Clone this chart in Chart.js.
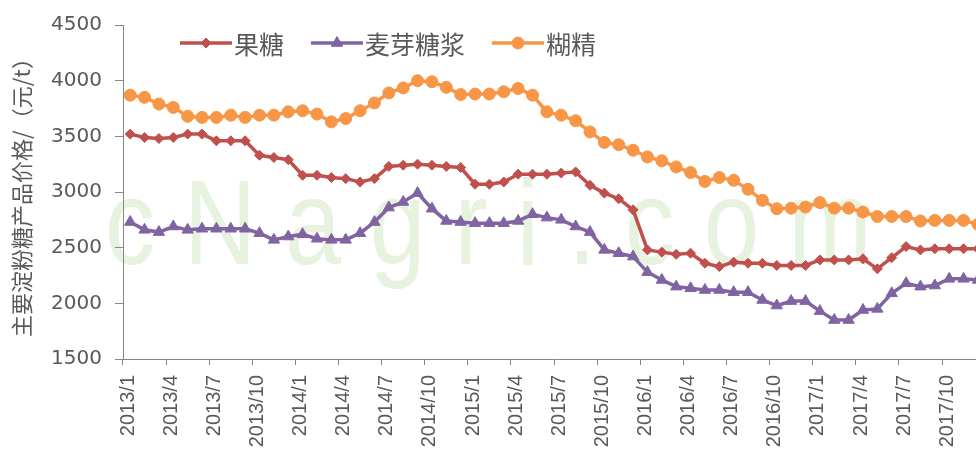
<!DOCTYPE html>
<html>
<head>
<meta charset="utf-8">
<script src="https://cdn.jsdelivr.net/npm/chart.js@4"></script>
<style>
html,body{margin:0;padding:0;background:#fff;overflow:hidden;width:976px;height:450px;}
#wrap{position:absolute;left:0;top:0;width:1012px;height:450px;}
</style>
</head>
<body>
<div id="wrap"><canvas id="c" width="1012" height="450"></canvas></div>
<script>
// ---- data ----
const categories = [];
for (let y = 2013; y <= 2017; y++) for (let m = 1; m <= 12; m++) categories.push(y + '/' + m);

const seriesNames = ['果糖', '麦芽糖浆', '糊精'];

const fructose = [
  3520, 3490, 3480, 3490, 3520, 3520, 3460, 3460, 3460, 3330,
  3310, 3290, 3150, 3150, 3130, 3120, 3090, 3120, 3230, 3240,
  3250, 3240, 3230, 3220, 3070, 3070, 3090, 3160, 3160, 3160,
  3170, 3180, 3060, 2990, 2940, 2840, 2480, 2460, 2440, 2450,
  2360, 2330, 2370, 2360, 2360, 2340, 2340, 2340, 2390, 2390,
  2390, 2400, 2310, 2410, 2510, 2480, 2490, 2490, 2490, 2490
];

const maltoseSyrup = [
  2730, 2660, 2640, 2690, 2660, 2670, 2670, 2670, 2670, 2630,
  2570, 2600, 2620, 2580, 2570, 2570, 2630, 2730, 2860, 2910,
  2990, 2850, 2740, 2730, 2720, 2720, 2720, 2740, 2800, 2770,
  2750, 2690, 2640, 2480, 2450, 2420, 2280, 2210, 2150, 2135,
  2120, 2120, 2100, 2100, 2030, 1980, 2020, 2020, 1930, 1850,
  1850, 1940, 1950, 2090, 2180, 2150, 2160, 2220, 2220, 2210
];

const dextrin = [
  3870, 3850, 3790, 3760, 3680, 3670, 3670, 3690, 3670, 3690,
  3690, 3720, 3730, 3700, 3630, 3660, 3730, 3800, 3890, 3935,
  4000, 3990, 3940, 3875, 3880, 3880, 3900, 3930, 3870, 3720,
  3690, 3640, 3540, 3445, 3425, 3375, 3315, 3280, 3225, 3175,
  3095, 3130, 3105, 3025, 2925, 2850, 2855, 2865, 2905, 2855,
  2855, 2820, 2780, 2780, 2780, 2740, 2745, 2745, 2745, 2710
];

const yTicks = [1500, 2000, 2500, 3000, 3500, 4000, 4500];
const yTitle = '主要淀粉糖产品价格/（元/t）';
const watermarkText = 'cNagri.com';

// ---- styles ----
const colors = ['#C0504D', '#8064A2', '#F79646'];
const styles = ['rectRot', 'triangle', 'circle'];
const radii = [5, 6.5, 6];
const axisGray = '#868686';
const textGray = '#595959';

function drawMarker(ctx, style, x, y, r, color) {
  ctx.save();
  ctx.fillStyle = color;
  ctx.strokeStyle = color;
  ctx.lineWidth = 1;
  ctx.beginPath();
  if (style === 'circle') {
    ctx.arc(x, y, r, 0, Math.PI * 2);
  } else if (style === 'triangle') {
    ctx.moveTo(x, y - r);
    ctx.lineTo(x + 0.866 * r, y + 0.5 * r);
    ctx.lineTo(x - 0.866 * r, y + 0.5 * r);
  } else {
    ctx.moveTo(x, y - r);
    ctx.lineTo(x + r, y);
    ctx.lineTo(x, y + r);
    ctx.lineTo(x - r, y);
  }
  ctx.closePath();
  ctx.fill();
  ctx.stroke();
  ctx.restore();
}

const watermarkPlugin = {
  id: 'watermark',
  beforeDraw(chart) {
    const ctx = chart.ctx;
    ctx.save();
    ctx.scale(1, 1.2);
    ctx.font = '100px "Liberation Sans"';
    try { ctx.letterSpacing = '29px'; } catch (e) {}
    ctx.fillStyle = '#e7f2df';
    ctx.textBaseline = 'alphabetic';
    ctx.fillText(watermarkText, 105, 220);
    ctx.restore();
  }
};

const legendPlugin = {
  id: 'lineLegend',
  afterDraw(chart) {
    const ctx = chart.ctx;
    ctx.save();
    ctx.font = '25px "Noto Sans CJK SC"';
    ctx.textBaseline = 'middle';
    let x = 180;
    const y = 43;
    const L = 52;
    chart.data.datasets.forEach(ds => {
      ctx.strokeStyle = ds.borderColor;
      ctx.lineWidth = ds.borderWidth;
      ctx.beginPath();
      ctx.moveTo(x, y);
      ctx.lineTo(x + L, y);
      ctx.stroke();
      drawMarker(ctx, ds.pointStyle, x + L / 2, y, ds.pointRadius, ds.borderColor);
      x += L + 2;
      ctx.fillStyle = textGray;
      ctx.fillText(ds.label, x, y + 1);
      x += ctx.measureText(ds.label).width + 27;
    });
    ctx.restore();
  }
};

const seriesData = [fructose, maltoseSyrup, dextrin];

new Chart(document.getElementById('c'), {
  type: 'line',
  data: {
    labels: categories,
    datasets: seriesData.map((d, i) => ({
      label: seriesNames[i],
      data: d,
      borderColor: colors[i],
      backgroundColor: colors[i],
      borderWidth: 3.5,
      pointStyle: styles[i],
      pointRadius: radii[i],
      pointBorderWidth: 1,
      pointBackgroundColor: colors[i],
      pointBorderColor: colors[i],
      tension: 0,
      fill: false,
      order: 2 - i
    }))
  },
  options: {
    responsive: false,
    animation: false,
    events: [],
    layout: { padding: { top: 23, right: 6, bottom: 0, left: 0 } },
    plugins: {
      legend: { display: false },
      tooltip: { enabled: false }
    },
    scales: {
      x: {
        type: 'category',
        offset: true,
        grid: {
          offset: true,
          drawOnChartArea: false,
          drawTicks: true,
          tickLength: 6,
          color: ctx => (ctx.index % 3 === 0 ? axisGray : 'rgba(0,0,0,0)'),
          lineWidth: 1
        },
        border: { display: true, color: axisGray, width: 1 },
        ticks: {
          autoSkip: false,
          maxRotation: 90,
          minRotation: 90,
          padding: 10,
          labelOffset: -2,
          color: textGray,
          font: { family: '"Liberation Sans"', size: 20 },
          callback: (v, i) => (i % 3 === 0 ? categories[i] : '')
        },
        afterFit: s => { s.height = 91; }
      },
      y: {
        min: 1500,
        max: 4500,
        afterBuildTicks: s => { s.ticks = yTicks.map(v => ({ value: v })); },
        grid: {
          drawOnChartArea: false,
          drawTicks: true,
          tickLength: 8,
          color: axisGray
        },
        border: { display: true, color: axisGray, width: 1 },
        ticks: {
          padding: 13,
          color: textGray,
          font: { family: '"DejaVu Sans"', size: 20 },
          callback: v => String(v)
        },
        title: {
          display: true,
          text: yTitle,
          color: textGray,
          font: { family: '"Noto Sans CJK SC"', size: 22 },
          padding: { top: 8, bottom: 0 }
        },
        afterFit: s => { s.width = 123; }
      }
    }
  },
  plugins: [watermarkPlugin, legendPlugin]
});
</script>
</body>
</html>
